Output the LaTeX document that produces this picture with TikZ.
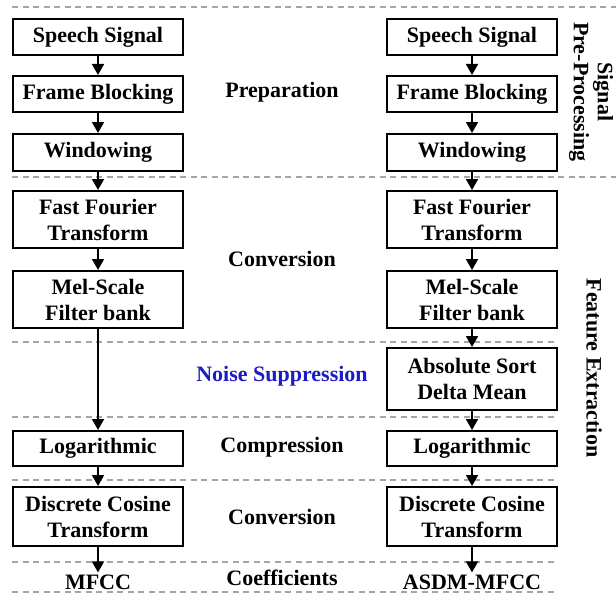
\documentclass[tikz,border=0pt]{standalone}
\usepackage{fontspec}
\setmainfont{Liberation Serif}
\usetikzlibrary{arrows.meta}
\definecolor{dashgray}{RGB}{165,165,165}
\definecolor{noiseblue}{RGB}{28,28,196}
\tikzset{
  txt/.style={font=\fontsize{22}{26}\selectfont\bfseries, align=center},
  box/.style={txt, draw, line width=2pt, minimum width=170pt, inner sep=0pt},
  lbl/.style={txt, inner sep=2pt},
  arr/.style={-{Triangle[width=12pt,length=11pt]}, line width=1.8pt},
  sep/.style={dashgray, line width=1.4pt, dash pattern=on 6pt off 4.5pt}
}
\begin{document}
\begin{tikzpicture}[x=1pt,y=-1pt]
\useasboundingbox (0,0) rectangle (616,594);
% separators
\draw[sep] (12,7) -- (616,7);
\draw[sep] (12,177) -- (616,177);
\draw[sep] (12,342) -- (555,342);
\draw[sep] (12,417) -- (555,417);
\draw[sep] (12,480) -- (555,480);
\draw[sep] (12,562) -- (555,562);
\draw[sep] (12,592) -- (555,592);
% left column
\node[box, minimum height=36pt] (ls) at (98,37) {Speech Signal};
\node[box, minimum height=36pt] (lf) at (98,94) {Frame Blocking};
\node[box, minimum height=37pt] (lw) at (98,152.5) {Windowing};
\node[box, minimum height=57pt] (lt) at (98,219.5) {Fast Fourier\\Transform};
\node[box, minimum height=57pt] (lm) at (98,299.5) {Mel-Scale\\Filter bank};
\node[box, minimum height=35pt] (ll) at (98,448.5) {Logarithmic};
\node[box, minimum height=59pt] (ld) at (98,516.5) {Discrete Cosine\\Transform};
\node[lbl] (lo) at (98,582) {MFCC};
% right column
\node[box, minimum height=36pt] (rs) at (472,37) {Speech Signal};
\node[box, minimum height=36pt] (rf) at (472,94) {Frame Blocking};
\node[box, minimum height=37pt] (rw) at (472,152.5) {Windowing};
\node[box, minimum height=57pt] (rt) at (472,219.5) {Fast Fourier\\Transform};
\node[box, minimum height=57pt] (rm) at (472,299.5) {Mel-Scale\\Filter bank};
\node[box, minimum height=62pt] (ra) at (472,379) {Absolute Sort\\Delta Mean};
\node[box, minimum height=35pt] (rl) at (472,448.5) {Logarithmic};
\node[box, minimum height=59pt] (rd) at (472,516.5) {Discrete Cosine\\Transform};
\node[lbl] (ro) at (472,582) {ASDM-MFCC};
% middle labels
\node[lbl] (mp) at (282,92) {Preparation};
\node[lbl] (mc) at (282,259) {Conversion};
\node[lbl, text=noiseblue] (mn) at (282,376) {Noise Suppression};
\node[lbl] (mk) at (282,447) {Compression};
\node[lbl] (mv) at (282,517) {Conversion};
\node[lbl] (me) at (282,578) {Coefficients};
% side labels
\node[lbl, rotate=-90, font=\fontsize{22}{24}\selectfont\bfseries] (sp) at (591,92) {Signal\\Pre-Processing};
\node[lbl, rotate=-90] (fe) at (594,368) {Feature Extraction};
% arrows
\draw[arr] (ls) -- (lf);
\draw[arr] (lf) -- (lw);
\draw[arr] (lw) -- (lt);
\draw[arr] (lt) -- (lm);
\draw[arr] (lm) -- (ll);
\draw[arr] (ll) -- (ld);
\draw[arr] (ld) -- (lo);
\draw[arr] (rs) -- (rf);
\draw[arr] (rf) -- (rw);
\draw[arr] (rw) -- (rt);
\draw[arr] (rt) -- (rm);
\draw[arr] (rm) -- (ra);
\draw[arr] (ra) -- (rl);
\draw[arr] (rl) -- (rd);
\draw[arr] (rd) -- (ro);
\end{tikzpicture}
\end{document}
